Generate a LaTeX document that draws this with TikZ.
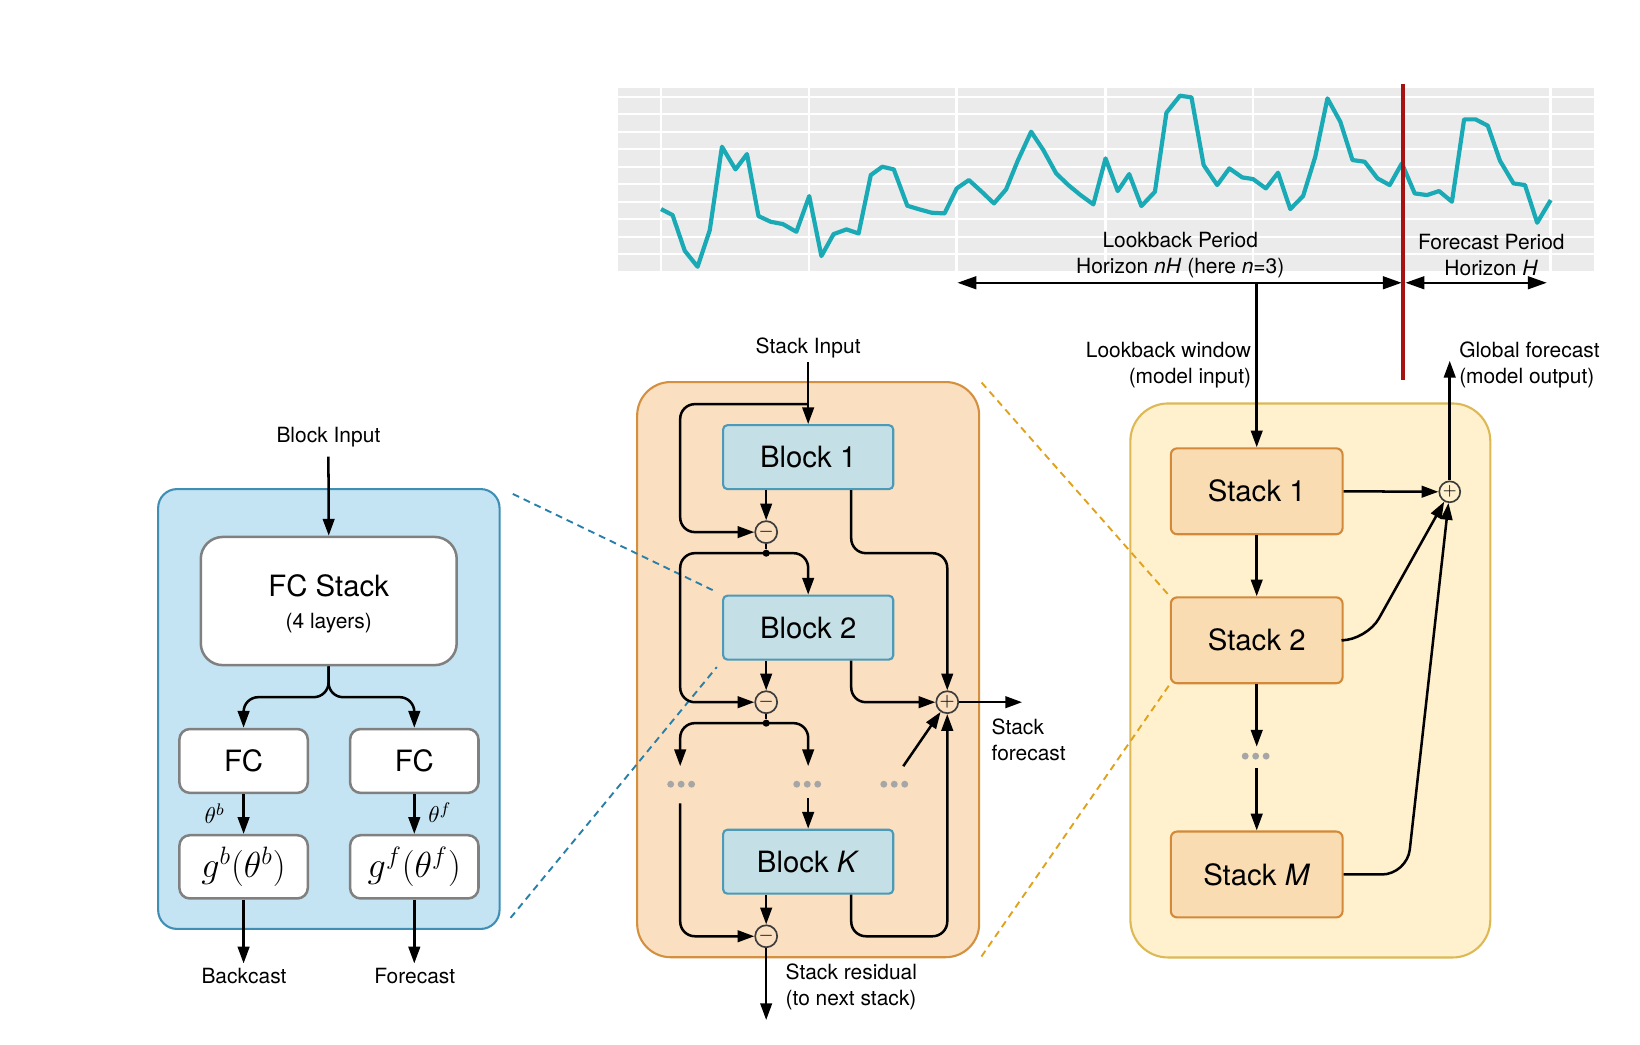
\documentclass[tikz,border=0pt]{standalone}
\usepackage{fontspec}
\setmainfont{TeX Gyre Heros}
\usetikzlibrary{arrows.meta}
\definecolor{teal1}{RGB}{26,170,182}
\definecolor{bandgray}{RGB}{235,235,235}
\definecolor{redline}{RGB}{166,18,18}
\definecolor{bluefill}{RGB}{197,228,243}
\definecolor{bluedraw}{RGB}{63,143,181}
\definecolor{fcdraw}{RGB}{128,128,128}
\definecolor{orfill}{RGB}{250,223,192}
\definecolor{ordraw}{RGB}{212,144,63}
\definecolor{blkfill}{RGB}{196,223,229}
\definecolor{blkdraw}{RGB}{75,154,184}
\definecolor{yelfill}{RGB}{255,241,205}
\definecolor{yeldraw}{RGB}{221,185,85}
\definecolor{stkfill}{RGB}{249,220,178}
\definecolor{stkdraw}{RGB}{210,138,58}
\definecolor{dotgray}{RGB}{166,166,166}
\definecolor{circdraw}{RGB}{60,60,60}
\definecolor{bluedash}{RGB}{42,127,168}
\definecolor{orangedash}{RGB}{224,162,27}
\pgfdeclarelayer{back}
\pgfdeclarelayer{mid}
\pgfsetlayers{back,mid,main}
\begin{document}
\begin{tikzpicture}[x=0.5pt,y=-0.5pt,
  conn/.style={line width=1.2pt,black},
  arr/.style={conn,-{Triangle[length=8pt,width=5.5pt]}},
  darr/.style={conn,{Triangle[length=9pt,width=6pt]}-{Triangle[length=9pt,width=6pt]}},
  rc/.style={rounded corners=7pt},
  lbl/.style={font=\fontsize{10}{12.5}\selectfont,inner sep=0pt},
  bigtxt/.style={font=\fontsize{14}{16}\selectfont},
  container/.style={inner sep=0pt,line width=1pt},
  fcbox/.style={draw=fcdraw,fill=white,line width=1.2pt,rounded corners=5pt,inner sep=0pt,bigtxt,minimum width=61.3pt,minimum height=30.5pt},
  blockbox/.style={draw=blkdraw,fill=blkfill,line width=1pt,rounded corners=2pt,minimum width=81.2pt,minimum height=30.5pt,inner sep=0pt,bigtxt},
  stackbox/.style={draw=stkdraw,fill=stkfill,line width=1pt,rounded corners=3pt,minimum width=82pt,minimum height=41pt,inner sep=0pt,bigtxt},
  opcirc/.style={circle,draw=circdraw,line width=0.8pt,fill=orfill,minimum size=10.5pt,inner sep=0pt,font=\fontsize{9}{9}\selectfont},
  junction/.style={circle,fill=black,minimum size=3.4pt,inner sep=0pt},
  threedots/.pic={\foreach \i in {-1,0,1} \fill[dotgray] (\i*10,0) circle (1.65pt);},
  bdash/.style={bluedash,line width=0.9pt,dash pattern=on 3.3pt off 2.4pt},
  odash/.style={orangedash,line width=0.9pt,dash pattern=on 3.3pt off 2.4pt}
]
\useasboundingbox (0,0) rectangle (1566,997);
\begin{pgfonlayer}{back}
\fill[white] (0,0) rectangle (1566,997);
\end{pgfonlayer}

% ---------- chart ----------
\begin{scope}[shift={(555,57.31)},xscale=0.646,yscale=0.3184]
  \fill[bandgray] (55,85) rectangle (1497,638);
  \foreach \yy in {112,162,215,268,320,373,425,478,530,583,636}
    \draw[white,line width=1pt] (55,\yy) -- (1497,\yy);
  \foreach \xx in {118,337,555,775,993,1213,1433}
    \draw[white,line width=1.2pt] (\xx,85) -- (\xx,638);
  \draw[teal1,line width=2pt,line join=round] plot coordinates {
   (118,447) (135,465) (153,572) (172,620) (190,510) (208,260) (228,328) (245,282)
   (262,468) (280,485) (298,492) (318,515) (337,408) (355,588) (373,522) (392,508)
   (410,520) (428,345) (445,320) (462,328) (482,437) (500,448) (518,458) (537,460)
   (555,385) (573,360) (592,395) (610,430) (628,388) (645,303) (665,215) (683,270)
   (702,340) (720,375) (738,405) (757,433) (775,295) (793,393) (810,342) (828,438)
   (848,395) (865,158) (885,107) (902,112) (920,315) (940,375) (958,325) (977,352)
   (993,357) (1012,385) (1030,338) (1048,447) (1067,408) (1085,290) (1103,115) (1122,185)
   (1140,300) (1158,305) (1177,355) (1195,375) (1213,310) (1232,400) (1250,405) (1268,393)
   (1287,425) (1305,178) (1322,178) (1340,197) (1358,302) (1378,370) (1395,375) (1413,488)
   (1433,420)};
\end{scope}
\node[lbl,align=center] (lbtxt) at (1127,243.5) {Lookback Period\\Horizon \textit{nH} (here \textit{n}=3)};
\node[lbl,align=center] (fptxt) at (1424,243.5) {Forecast Period\\Horizon \textit{H}};
\coordinate (lbs) at (914.2,270);
\coordinate (lbe) at (1338.5,270);
\coordinate (fa1) at (1342,270);
\coordinate (fa2) at (1477,270);
\coordinate (lwin) at (1200,270);
\coordinate (rtop) at (1340,80);
\coordinate (rbot) at (1340,363);
\draw[darr] (lbs) -- (lbe);
\draw[darr] (fa1) -- (fa2);

% ---------- containers ----------
\begin{pgfonlayer}{back}
\node[container,draw=bluedraw,fill=bluefill,minimum width=163pt,minimum height=210pt,rounded corners=9pt] (bluebox) at (314,677) {};
\node[container,draw=ordraw,fill=orfill,minimum width=163.3pt,minimum height=274.6pt,rounded corners=16pt] (orbox) at (771.7,639.4) {};
\node[container,draw=yeldraw,fill=yelfill,minimum width=171.85pt,minimum height=264.5pt,rounded corners=18pt] (yelbox) at (1251.2,649.75) {};
\end{pgfonlayer}

% ---------- left panel ----------
\node[lbl] (binlbl) at (313.6,417) {Block Input};
\coordinate (bin) at (313.6,436);
\node[fcbox,minimum width=122.2pt,minimum height=61.2pt,rounded corners=10.5pt,align=center] (fcs) at (313.9,573.9)
  {\rule{0pt}{13pt}FC Stack\\[-1pt]{\fontsize{10}{12}\selectfont (4 layers)}};
\node[fcbox] (fcb) at (232.6,726.6) {FC};
\node[fcbox] (fcf) at (395.6,726.6) {FC};
\node[fcbox,minimum height=30.2pt,font=\fontsize{16.5}{18}\selectfont] (gb) at (232.6,827.7) {$g^b(\theta^b)$};
\node[fcbox,minimum height=30.2pt,font=\fontsize{16.5}{18}\selectfont] (gf) at (395.6,827.7) {$g^f(\theta^f)$};
\coordinate (split) at (313.6,665.7);
\coordinate (bco) at (232.6,920);
\coordinate (fco) at (395.6,920);
\node[lbl,font=\fontsize{11}{12}\selectfont] (thb) at (205,777) {$\theta^b$};
\node[lbl,font=\fontsize{11}{12}\selectfont] (thf) at (420,776) {$\theta^f$};
\node[lbl] (bclbl) at (233,932) {Backcast};
\node[lbl] (fclbl) at (396,932) {Forecast};

\draw[arr] (bin) -- (fcs.north);
\draw[arr,rc] (fcs.south) -- (split) -| (fcb.north);
\draw[arr,rc] (fcs.south) -- (split) -| (fcf.north);
\draw[arr] (fcb.south) -- (gb.north);
\draw[arr] (fcf.south) -- (gf.north);
\draw[arr] (gb.south) -- (bco);
\draw[arr] (gf.south) -- (fco);

% ---------- middle panel ----------
\node[lbl] (sinlbl) at (771.7,332.4) {Stack Input};
\node[blockbox] (block1) at (771.7,436.5) {Block 1};
\node[blockbox] (block2) at (771.7,599.3) {Block 2};
\node[blockbox] (blockK) at (771.7,822.8) {Block \textit{K}};
\node[opcirc] (m1) at (731.6,508.1) {$-$};
\node[opcirc] (m2) at (731.6,670.5) {$-$};
\node[opcirc] (m3) at (731.6,894) {$-$};
\node[opcirc] (p1) at (904.5,670.5) {$+$};
\node[junction] (d1) at (731.6,528.2) {};
\node[junction] (d2) at (731.6,690.5) {};
\pic (dl) at (650.4,748.8) {threedots};
\pic (dc) at (770.8,748.8) {threedots};
\pic (dr) at (853.9,748.8) {threedots};
\coordinate (xl) at (649.5,0);
\coordinate (xr) at (812.8,0);
\coordinate (sin) at (771.7,345.7);
\coordinate (loop1) at (771.7,385.9);
\coordinate (al) at (649.5,731.6);
\coordinate (ac) at (771.7,731.6);
\coordinate (dg) at (862.5,731.6);
\coordinate (ll) at (649.5,767);
\coordinate (kc) at (771.7,762.2);
\coordinate (sfo) at (976,670.5);
\coordinate (sres) at (731.6,974);
\node[lbl,align=left,anchor=west] (sflbl) at (946.5,706.8) {Stack\\forecast};
\node[lbl,align=left,anchor=west] (srlbl) at (749.8,942.2) {Stack residual\\(to next stack)};

\draw[arr] (sin) -- (block1.north);
\draw[arr,rc] (loop1) -- (loop1 -| xl) -- (m1 -| xl) -- (m1.west);
\draw[arr] (block1.south -| m1) -- (m1.north);
\draw[conn] (m1.south) -- (d1);
\draw[arr,rc] (d1.center) -- (d1 -| xl) -- (m2 -| xl) -- (m2.west);
\draw[arr,rc] (d1.center) -- (d1 -| block2) -- (block2.north);
\draw[arr,rc] (block1.south -| xr) -- (d1 -| xr) -- (d1 -| p1) -- (p1.north);
\draw[arr] (block2.south -| m2) -- (m2.north);
\draw[conn] (m2.south) -- (d2);
\draw[arr,rc] (block2.south -| xr) -- (p1 -| xr) -- (p1.west);
\draw[arr,rc] (d2.center) -- (d2 -| al) -- (al);
\draw[arr,rc] (d2.center) -- (d2 -| ac) -- (ac);
\draw[arr] (dg) -- (p1);
\draw[arr,rc] (ll) -- (ll |- m3) -- (m3.west);
\draw[arr] (kc) -- (blockK.north);
\draw[arr] (blockK.south -| m3) -- (m3.north);
\draw[arr,rc] (blockK.south -| xr) -- (m3 -| xr) -- (m3 -| p1) -- (p1.south);
\draw[arr] (p1.east) -- (sfo);
\draw[arr] (m3.south) -- (sres);

% ---------- right panel ----------
\node[stackbox] (s1) at (1200,469.1) {Stack 1};
\node[stackbox] (s2) at (1200,611.4) {Stack 2};
\node[stackbox] (sM) at (1200,835) {Stack \textit{M}};
\node[opcirc,fill=yelfill,minimum size=10pt,font=\fontsize{8}{8}\selectfont] (gp) at (1384.3,469.6) {$+$};
\pic (sdots) at (1199,722) {threedots};
\coordinate (gfo) at (1384.3,344.5);
\coordinate (s2c) at (1305,611.4);
\coordinate (sMc) at (1343.5,835);
\coordinate (sda) at (1200,713);
\coordinate (sdb) at (1200,733.8);
\node[lbl,align=right,anchor=east] (lwlbl) at (1195,348.5) {Lookback window\\(model input)};
\node[lbl,align=left,anchor=west] (gflbl) at (1393,348.5) {Global forecast\\(model output)};

\draw[arr] (lwin) -- (s1.north);
\draw[arr] (s1.east) -- (gp.west);
\draw[arr] (s1.south) -- (s2.north);
\draw[arr,rounded corners=12pt] (s2.east) -- (s2c) -- (gp);
\draw[arr,rounded corners=12pt] (sM.east) -- (sMc) -- (gp);
\draw[arr] (gp.north) -- (gfo);
\draw[arr] (s2.south) -- (sda);
\draw[arr] (sdb) -- (sM.north);

% ---------- dashed zoom lines ----------
\begin{pgfonlayer}{mid}
\draw[bdash,shorten <=6.5pt,shorten >=5pt] (bluebox.north east) -- (block2.north west);
\draw[bdash,shorten <=7.5pt,shorten >=4pt] (bluebox.south east) -- (block2.south west);
\draw[odash,shorten <=1pt] (orbox.north east) -- (s2.north west);
\draw[odash,shorten <=1pt] (orbox.south east) -- (s2.south west);
\end{pgfonlayer}

% ---------- red divider ----------
\draw[redline,line width=2pt] (rtop) -- (rbot);
\end{tikzpicture}
\end{document}
